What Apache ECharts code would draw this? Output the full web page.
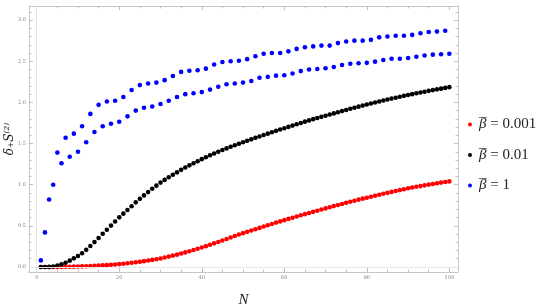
<!DOCTYPE html>
<html><head><meta charset="utf-8">
<script src="https://cdn.jsdelivr.net/npm/echarts@6/dist/echarts.min.js"></script>
<style>html,body{margin:0;padding:0;background:#fff}#c{width:545px;height:307px}</style>
</head><body><div id="c"></div>
<script>
// ---- data (N = 1..100) ----
const betaLabels = ['0.001', '0.01', '1'];
const seriesColors = ['#ff0000', '#000000', '#0000ff'];

const redValues = [
  0.000,0.000,0.000,0.000,0.001,0.001,0.002,0.003,0.004,0.005,
  0.007,0.009,0.011,0.013,0.016,0.019,0.022,0.026,0.030,0.035,
  0.040,0.045,0.051,0.057,0.064,0.071,0.078,0.086,0.094,0.103,
  0.115,0.126,0.138,0.150,0.163,0.177,0.191,0.206,0.221,0.237,
  0.253,0.270,0.287,0.304,0.322,0.340,0.358,0.376,0.394,0.411,
  0.427,0.443,0.459,0.475,0.491,0.507,0.523,0.539,0.554,0.569,
  0.584,0.599,0.614,0.628,0.642,0.656,0.670,0.684,0.698,0.712,
  0.726,0.740,0.753,0.766,0.779,0.792,0.805,0.818,0.830,0.842,
  0.854,0.866,0.878,0.890,0.901,0.912,0.923,0.934,0.945,0.956,
  0.965,0.974,0.983,0.992,1.001,1.009,1.017,1.025,1.033,1.040
];
const blackValues = [
  0.000,0.000,0.001,0.005,0.016,0.033,0.052,0.077,0.105,0.133,
  0.166,0.208,0.255,0.302,0.352,0.403,0.452,0.503,0.553,0.603,
  0.648,0.693,0.738,0.785,0.828,0.870,0.910,0.950,0.988,1.025,
  1.058,1.090,1.120,1.150,1.180,1.208,1.235,1.260,1.285,1.310,
  1.334,1.357,1.379,1.400,1.421,1.441,1.460,1.479,1.497,1.515,
  1.533,1.551,1.569,1.586,1.603,1.620,1.637,1.654,1.670,1.686,
  1.702,1.718,1.734,1.750,1.766,1.781,1.796,1.810,1.824,1.838,
  1.852,1.866,1.880,1.894,1.908,1.922,1.935,1.948,1.961,1.974,
  1.987,1.999,2.011,2.023,2.035,2.046,2.057,2.068,2.079,2.090,
  2.100,2.110,2.120,2.130,2.140,2.149,2.158,2.167,2.176,2.185
];
const blueValues = [
  0.08,0.42,0.82,1.00,1.39,1.26,1.57,1.34,1.62,1.40,
  1.71,1.515,1.86,1.64,1.97,1.71,2.01,1.74,2.02,1.765,
  2.065,1.83,2.15,1.90,2.21,1.935,2.23,1.95,2.24,1.98,
  2.27,2.02,2.32,2.065,2.37,2.10,2.385,2.11,2.39,2.125,
  2.41,2.155,2.46,2.19,2.49,2.22,2.50,2.23,2.505,2.24,
  2.525,2.26,2.56,2.30,2.59,2.31,2.60,2.325,2.60,2.33,
  2.62,2.35,2.65,2.38,2.67,2.40,2.68,2.405,2.69,2.415,
  2.69,2.43,2.72,2.455,2.74,2.47,2.75,2.475,2.75,2.48,
  2.76,2.495,2.79,2.515,2.80,2.53,2.81,2.53,2.81,2.54,
  2.82,2.555,2.84,2.57,2.855,2.58,2.86,2.585,2.87,2.59
];

const xMajorTicks = [0, 20, 40, 60, 80, 100];
const xMinorTicks = [5,10,15,25,30,35,45,50,55,65,70,75,85,90,95];
const yMajorTicks = [0, 0.5, 1.0, 1.5, 2.0, 2.5, 3.0];
const yMinorTicks = [0.1,0.2,0.3,0.4,0.6,0.7,0.8,0.9,1.1,1.2,1.3,1.4,1.6,1.7,1.8,1.9,
                     2.1,2.2,2.3,2.4,2.6,2.7,2.8,2.9,3.1];

const X_MIN = -1.87, X_MAX = 102.1;
const Y_MIN = -0.061, Y_MAX = 3.171;

// ---- chart ----
const frameColor = '#c6c6c6';
const tickColor = '#b0b0b0';
const labelColor = '#808080';

function xAxisDef(pos, ticks, len, labels) {
  return {
    type: 'value', position: pos, min: X_MIN, max: X_MAX,
    axisLine: { show: labels !== null, onZero: false, lineStyle: { color: frameColor, width: 1 } },
    axisTick: { show: true, inside: true, length: len, customValues: ticks, lineStyle: { color: tickColor, width: 0.8 } },
    axisLabel: labels ? { show: true, customValues: ticks, fontSize: 5, color: labelColor, margin: 3, fontFamily: 'DejaVu Serif' } : { show: false },
    splitLine: { show: false }
  };
}
function yAxisDef(pos, ticks, len, labels) {
  return {
    type: 'value', position: pos, min: Y_MIN, max: Y_MAX,
    axisLine: { show: labels !== null, onZero: false, lineStyle: { color: frameColor, width: 1 } },
    axisTick: { show: true, inside: true, length: len, customValues: ticks, lineStyle: { color: tickColor, width: 0.8 } },
    axisLabel: labels ? { show: true, customValues: ticks, fontSize: 5, color: labelColor, margin: 3, fontFamily: 'DejaVu Serif',
      formatter: v => v.toFixed(1) } : { show: false },
    splitLine: { show: false }
  };
}

const xAxes = [
  Object.assign(xAxisDef('bottom', xMajorTicks, 4, true), {
    name: 'N', nameLocation: 'middle', nameGap: 21, nameMoveOverlap: false,
    nameTextStyle: { fontFamily: 'Liberation Serif', fontStyle: 'italic', fontSize: 15, color: '#222' }
  }),
  xAxisDef('bottom', xMinorTicks, 2.5, null),
  xAxisDef('top', xMajorTicks, 4, false),
  xAxisDef('top', xMinorTicks, 2.5, null)
];
xAxes[2].axisLine.show = true;
const yAxes = [
  Object.assign(yAxisDef('left', yMajorTicks, 4, true), {
    name: 'δ₊S⁽²⁾', nameLocation: 'middle', nameGap: 13, nameMoveOverlap: false,
    nameTextStyle: { fontFamily: 'DejaVu Serif', fontStyle: 'italic', fontSize: 12, color: '#222' }
  }),
  yAxisDef('left', yMinorTicks, 2.5, null),
  yAxisDef('right', yMajorTicks, 4, false),
  yAxisDef('right', yMinorTicks, 2.5, null)
];
yAxes[2].axisLine.show = true;

const names = betaLabels.map(b => 'β̄ = ' + b);
const valueSets = [redValues, blackValues, blueValues];

const series = valueSets.map((vals, k) => ({
  name: names[k], type: 'scatter', xAxisIndex: 0, yAxisIndex: 0,
  symbol: 'circle', symbolSize: 4.6, z: 3,
  itemStyle: { color: seriesColors[k], opacity: 1 },
  data: vals.map((v, i) => [i + 1, v])
}));
series.unshift({
  name: 'axes', type: 'scatter', xAxisIndex: 0, yAxisIndex: 0, data: [], z: 1,
  markLine: {
    silent: true, symbol: 'none', animation: false,
    label: { show: false },
    lineStyle: { color: '#e4e4e4', width: 1, type: 'solid' },
    data: [{ xAxis: 0 }, { yAxis: 0 }]
  }
});

const chart = echarts.init(document.getElementById('c'), null, { renderer: 'canvas' });
chart.setOption({
  animation: false,
  backgroundColor: '#fff',
  grid: { left: 29, top: 6, width: 429, height: 266, containLabel: false, outerBoundsMode: 'none' },
  legend: {
    data: names, orient: 'vertical', left: 463, top: 112, itemGap: 15.5,
    icon: 'circle', itemWidth: 4, itemHeight: 4,
    formatter: name => '{m|¯}{b|β} = ' + name.split('= ')[1],
    textStyle: { fontFamily: 'Liberation Serif', fontSize: 15, color: '#222',
      rich: {
        m: { fontFamily: 'Liberation Serif', fontSize: 15, color: '#222', width: 0, align: 'left', padding: [0, 0, 0, 2] },
        b: { fontFamily: 'Liberation Serif', fontStyle: 'italic', fontSize: 15, color: '#222' }
      } }
  },
  xAxis: xAxes,
  yAxis: yAxes,
  series: series
});
</script>
</body></html>
